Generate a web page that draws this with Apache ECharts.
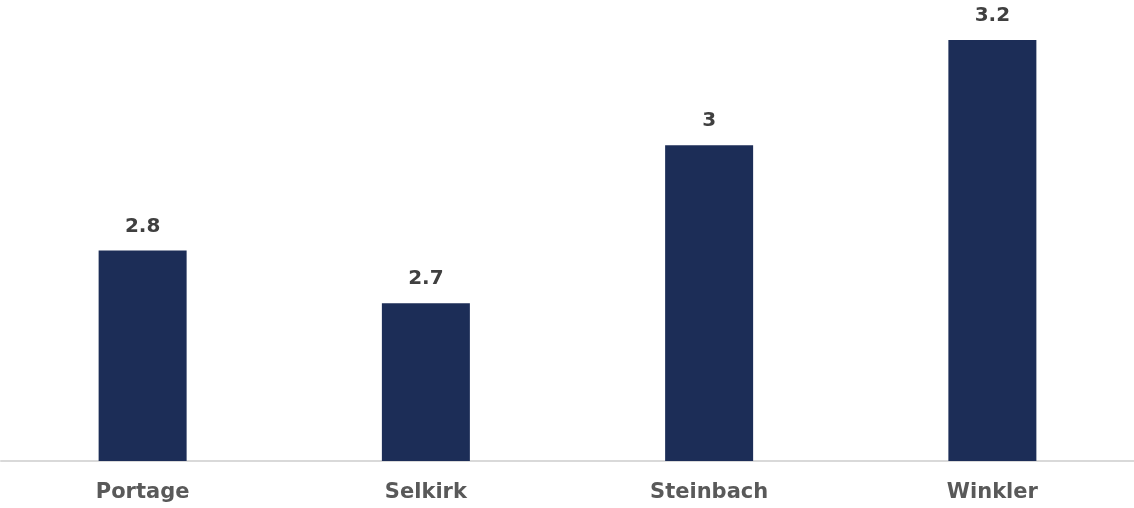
<!DOCTYPE html>
<html>
<head>
<meta charset="utf-8">
<script src="https://cdn.jsdelivr.net/npm/echarts@6/dist/echarts.min.js"></script>
<style>
  html, body { margin: 0; padding: 0; background: #fff; }
  #chart { width: 1134px; height: 508px; }
</style>
</head>
<body>
<div id="chart"></div>
<script>
var categories = ['Portage', 'Selkirk', 'Steinbach', 'Winkler'];
var values = [2.8, 2.7, 3, 3.2];

var myChart = echarts.init(document.getElementById('chart'));
var option = {
    animation: false,
    grid: { left: 1, right: 0, top: 40, bottom: 47 },
    xAxis: {
        type: 'category',
        data: categories,
        axisLine: { lineStyle: { color: '#d9d9d9', width: 2 } },
        axisTick: { show: false },
        axisLabel: {
            color: '#595959',
            fontFamily: 'DejaVu Sans',
            fontWeight: 'bold',
            fontSize: 21,
            margin: 21
        }
    },
    yAxis: {
        type: 'value',
        min: 2.4,
        max: 3.2,
        show: false,
        splitLine: { show: false }
    },
    series: [{
        type: 'bar',
        data: values,
        barWidth: 88,
        itemStyle: { color: '#1c2d57' },
        label: {
            show: true,
            position: 'top',
            distance: 14,
            color: '#404040',
            fontFamily: 'DejaVu Sans',
            fontWeight: 'bold',
            fontSize: 20
        }
    }]
};
myChart.setOption(option);
window.onresize = myChart.resize;
</script>
</body>
</html>
